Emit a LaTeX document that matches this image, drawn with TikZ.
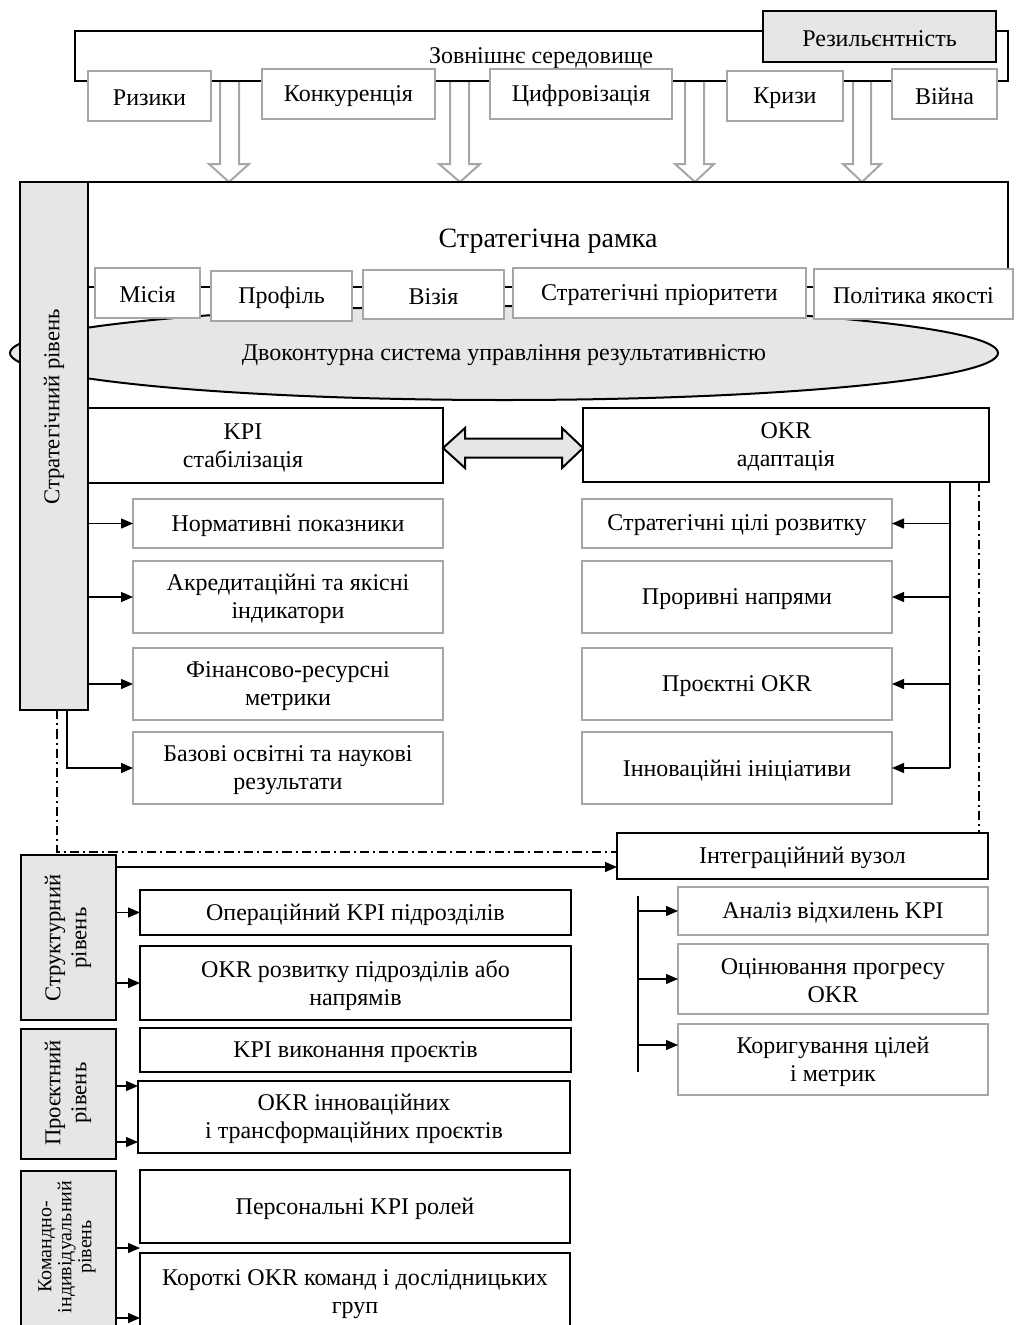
\documentclass[tikz,border=0pt]{standalone}
\usepackage{fontspec}
\setmainfont{Liberation Serif}
\usetikzlibrary{arrows.meta,fit,shapes.geometric}
\definecolor{boxgray}{HTML}{A6A6A6}
\definecolor{fillgray}{HTML}{E6E6E6}
\tikzset{
  base/.style={inner sep=0pt, outer sep=0pt, align=center, font=\fontsize{18}{21}\selectfont},
  gbox/.style={base, draw=boxgray, line width=1.5pt, fill=white},
  bbox/.style={base, draw=black, line width=1.6pt, fill=white},
  lvl/.style={base, draw=black, line width=1.6pt, fill=fillgray},
  frame/.style={base, draw=black, line width=1.5pt},
  vlabel/.style={base, rotate=90, font=\fontsize{17}{19.5}\selectfont},
  conn/.style={line width=1pt, -{Triangle[length=9pt,width=7.5pt]}},
  plain/.style={line width=1pt},
  dashdot/.style={line width=2pt, dash pattern=on 7pt off 3pt on 1.5pt off 3pt},
  hollow/.style={draw=boxgray, line width=1.5pt, fill=white, line join=miter},
  twin/.style={draw=black, line width=1.5pt, fill=fillgray, line join=miter},
}
% box from its corners (in picture units): style, name, x1, y1, x2, y2, text;
% the text sits in its own node <name>-t, a little below the box centre
\newcommand\fitbox[7]{%
  \pgfmathsetmacro\bxc{(#3+#5)/2}%
  \pgfmathsetmacro\byc{(#4+#6)/2}%
  \pgfmathsetmacro\bxw{abs(#5-#3)*0.75}%
  \pgfmathsetmacro\bxh{abs(#6-#4)*0.75}%
  \node[#1, minimum width=\bxw pt, minimum height=\bxh pt] (#2) at (\bxc,\byc) {};
  \node[base] (#2-t) at ([yshift=-1.6pt]#2.center) {#7};}

\begin{document}
\begin{tikzpicture}[x=0.75pt,y=-0.75pt]
\useasboundingbox (0,0) rectangle (1015,1325);
\clip (0,0) rectangle (1015,1325);

% ---------- inflow arrows from the environment ----------
\draw[hollow] (220,81) -- (239,81) -- (239,164) -- (249,164) -- (229,182) -- (209,164) -- (220,164) -- cycle;
\draw[hollow] (450,81) -- (469,81) -- (469,164) -- (480,164) -- (460,182) -- (439,164) -- (450,164) -- cycle;
\draw[hollow] (685,81) -- (704,81) -- (704,164) -- (714,164) -- (695,182) -- (675,164) -- (685,164) -- cycle;
\draw[hollow] (853,81) -- (871,81) -- (871,164) -- (881,164) -- (862,182) -- (843,164) -- (853,164) -- cycle;

% ---------- external environment ----------
\fitbox{frame}{env}{75}{31}{1008}{81}{}
\node[base] (envtitle) at (541,58) {Зовнішнє середовище};
\fitbox{gbox}{risk}{88}{71}{211}{121}{Ризики}
\fitbox{gbox}{comp}{262}{69}{435}{119}{Конкуренція}
\fitbox{gbox}{digi}{490}{69}{672}{119}{Цифровізація}
\fitbox{gbox}{crisis}{727}{71}{843}{121}{Кризи}
\fitbox{gbox}{war}{892}{69}{997}{119}{Війна}
\fitbox{lvl}{resil}{763}{11}{996}{62}{Резильєнтність}

% ---------- strategic frame ----------
\fitbox{frame}{frame}{88}{182}{1008}{287}{}
\node[base, font=\fontsize{21}{24}\selectfont] (frametitle) at (548,241) {Стратегічна рамка};
\node[draw=black, line width=1.5pt, fill=fillgray, ellipse, inner sep=0pt,
      minimum width=741pt, minimum height=70.5pt] (loop) at (504,353) {};
\node[base] (looptitle) at (504,355) {Двоконтурна система управління результативністю};

% KPI and OKR contours
\fitbox{bbox}{kpi}{43}{408}{443}{483}{KPI\\стабілізація}
\fitbox{bbox}{okr}{583}{408}{989}{482}{OKR\\адаптація}

% strategic level column
\fitbox{lvl}{scs}{20}{182}{88}{710}{}
\node[vlabel] (scslabel) at (54,407) {Стратегічний рівень};

% frame elements
\fitbox{gbox}{mission}{95}{268}{200}{318}{Місія}
\fitbox{gbox}{profile}{211}{271}{352}{321}{Профіль}
\fitbox{gbox}{vision}{363}{270}{504}{319}{Візія}
\fitbox{gbox}{prior}{513}{268}{806}{318}{Стратегічні пріоритети}
\fitbox{gbox}{quality}{814}{269}{1013}{319}{Політика якості}

% two-way link between the contours
\draw[twin] (443,448) -- (465,428) -- (465,438.5) -- (562,438.5) -- (562,428) -- (583,448)
  -- (562,468) -- (562,457.5) -- (465,457.5) -- (465,468) -- cycle;

% KPI branch
\fitbox{gbox}{k1}{133}{499}{443}{548}{Нормативні показники}
\fitbox{gbox}{k2}{133}{561}{443}{633}{Акредитаційні та якісні\\індикатори}
\fitbox{gbox}{k3}{133}{648}{443}{720}{Фінансово-ресурсні\\метрики}
\fitbox{gbox}{k4}{133}{732}{443}{804}{Базові освітні та наукові\\результати}
\draw[conn] (k1.west -| scs.east) -- (k1.west);
\draw[conn] (k2.west -| scs.east) -- (k2.west);
\draw[conn] (k3.west -| scs.east) -- (k3.west);
\coordinate (kx) at (67,0);
\draw[conn] (scs.south -| kx) |- (k4.west);

% OKR branch
\fitbox{gbox}{o1}{582}{499}{892}{548}{Стратегічні цілі розвитку}
\fitbox{gbox}{o2}{582}{561}{892}{633}{Проривні напрями}
\fitbox{gbox}{o3}{582}{648}{892}{720}{Проєктні OKR}
\fitbox{gbox}{o4}{582}{732}{892}{804}{Інноваційні ініціативи}
\coordinate (ox) at (950,0);
\draw[plain] (okr.south -| ox) -- (o4.east -| ox);
\draw[conn] (o1.east -| ox) -- (o1.east);
\draw[conn] (o2.east -| ox) -- (o2.east);
\draw[conn] (o3.east -| ox) -- (o3.east);
\draw[conn] (o4.east -| ox) -- (o4.east);

% ---------- integration node ----------
\fitbox{bbox}{integ}{617}{833}{988}{879}{Інтеграційний вузол}
\fitbox{gbox}{i1}{678}{887}{988}{935}{Аналіз відхилень KPI}
\fitbox{gbox}{i2}{678}{944}{988}{1014}{Оцінювання прогресу\\OKR}
\fitbox{gbox}{i3}{678}{1024}{988}{1095}{Коригування цілей\\і метрик}
\coordinate (iv1) at (638,896);
\coordinate (iv2) at (638,1072);
\coordinate (ia3) at (638,1045);
\draw[plain] (iv1) -- (iv2);
\draw[conn] (i1.west -| iv1) -- (i1.west);
\draw[conn] (i2.west -| iv1) -- (i2.west);
\draw[conn] (ia3) -- (ia3 -| i3.west);

% feedback loops into the integration node
\coordinate (ddl) at (57,852);
\coordinate (ddr) at (979,0);
\draw[dashdot] (scs.south -| ddl) -- (ddl) -- (ddl -| integ.west);
\draw[dashdot] (okr.south -| ddr) -- (integ.north -| ddr);

% ---------- structural level ----------
\fitbox{lvl}{scol}{21}{855}{116}{1020}{}
\node[vlabel] (scollabel) at (68,938) {Структурний\\рівень};
\fitbox{bbox}{s1}{140}{890}{571}{935}{Операційний KPI підрозділів}
\fitbox{bbox}{s2}{140}{946}{571}{1020}{OKR розвитку підрозділів або\\напрямів}
\draw[conn] (s1.west -| scol.east) -- (s1.west);
\draw[conn] (s2.west -| scol.east) -- (s2.west);
\coordinate (sa) at (116,867);
\draw[conn] (sa) -- (sa -| integ.west);

% ---------- project level ----------
\fitbox{lvl}{pcol}{21}{1029}{116}{1159}{}
\node[vlabel] (pcollabel) at (68,1093) {Проєктний\\рівень};
\fitbox{bbox}{p1}{140}{1028}{571}{1072}{KPI виконання проєктів}
\fitbox{bbox}{p2}{138}{1081}{570}{1153}{OKR інноваційних\\і трансформаційних проєктів}
\coordinate (pa1) at (116,1086);
\coordinate (pa2) at (116,1142);
\draw[conn] (pa1) -- (pa1 -| p2.west);
\draw[conn] (pa2) -- (pa2 -| p2.west);

% ---------- team and individual level ----------
\fitbox{lvl}{ccol}{21}{1171}{116}{1331}{}
\node[vlabel, font=\fontsize{15}{15}\selectfont] (ccollabel) at (67,1247) {Командно-\\індивідуальний\\рівень};
\fitbox{bbox}{c1}{140}{1170}{570}{1243}{Персональні KPI ролей}
\fitbox{bbox}{c2}{140}{1253}{570}{1331}{Короткі OKR команд і дослідницьких\\груп}
\coordinate (ca1) at (116,1248);
\coordinate (ca2) at (116,1318);
\draw[conn] (ca1) -- (ca1 -| c2.west);
\draw[conn] (ca2) -- (ca2 -| c2.west);
\end{tikzpicture}
\end{document}
